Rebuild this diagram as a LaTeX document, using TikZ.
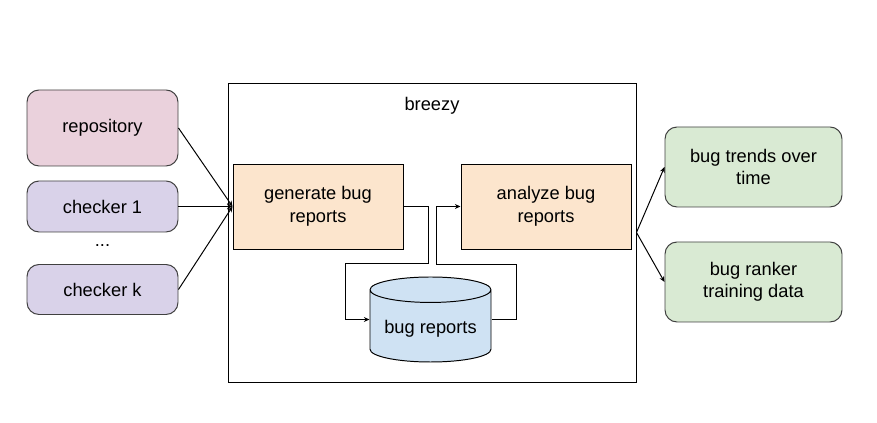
\documentclass[tikz,border=0pt]{standalone}
\usepackage{fontspec}
\setmainfont{Liberation Sans}
\usetikzlibrary{positioning,shapes.geometric,arrows.meta}

\definecolor{repofill}{HTML}{EAD1DC}
\definecolor{checkfill}{HTML}{D9D2E9}
\definecolor{stepfill}{HTML}{FCE5CD}
\definecolor{storefill}{HTML}{CFE2F3}
\definecolor{outfill}{HTML}{D9EAD3}

\begin{document}
\begin{tikzpicture}[node distance=2.075cm,on grid,
        font=\fontsize{13}{16}\selectfont,line width=0.7pt,
        >={Stealth[length=4pt,width=3.5pt]},
        input/.style={draw=black!75,rounded corners=0.3cm,minimum width=3.775cm,align=center},
        task/.style={draw,fill=stepfill,minimum width=4.25cm,minimum height=2.125cm,align=center},
        result/.style={draw=black!75,fill=outfill,rounded corners=0.3cm,minimum width=4.425cm,minimum height=2cm,align=center}]
        \useasboundingbox (0,0) rectangle (21.925,-10.575);
        % left column
        \node[input, fill=repofill, minimum height=1.9cm] (repo) at (2.5625,-3.2) {repository};
        \node[input, fill=checkfill, minimum height=1.275cm] (check1) at (2.5625,-5.1625) {checker 1};
        \node (dots) at (2.5625,-6.15) {...};
        \node[input, fill=checkfill, minimum height=1.25cm] (checkk) [below=of check1] {checker k};
        % breezy
        \node[draw, minimum width=10.2cm, minimum height=7.475cm] (breezy) at (10.8,-5.8125) {};
        \node (title) at (10.8,-2.65) {breezy};
        \node[task] (gen) at (7.95,-5.1625) {generate bug\\reports};
        \node[task] (ana) at (13.65,-5.1625) {analyze bug\\reports};
        \node[cylinder, shape border rotate=90, draw, fill=storefill, aspect=0.25,
              minimum width=3.025cm, minimum height=2.125cm, anchor=shape center] (store) at (10.7625,-7.9875) {bug reports};
        % outputs
        \node[result] (trends) at (18.8375,-4.175) {bug trends over\\time};
        \node[result] (ranker) at (18.8375,-7.05) {bug ranker\\training data};

        \path[->]
            (repo.east) edge (gen.west)
            (check1.east) edge (gen.west)
            (checkk.east) edge (gen.west)
            (breezy.east) edge (trends.west)
            (breezy.east) edge (ranker.west);
        \draw[->] (gen.east) -- ++(0.625,0) -- ++(0,-1.425) -- ++(-2.075,0) |- (store.shape center -| store.west);
        \draw[->] (store.shape center -| store.east) -- ++(0.625,0) -- ++(0,1.375) -- ++(-2.0,0) |- (ana.west);
    \end{tikzpicture}
\end{document}
